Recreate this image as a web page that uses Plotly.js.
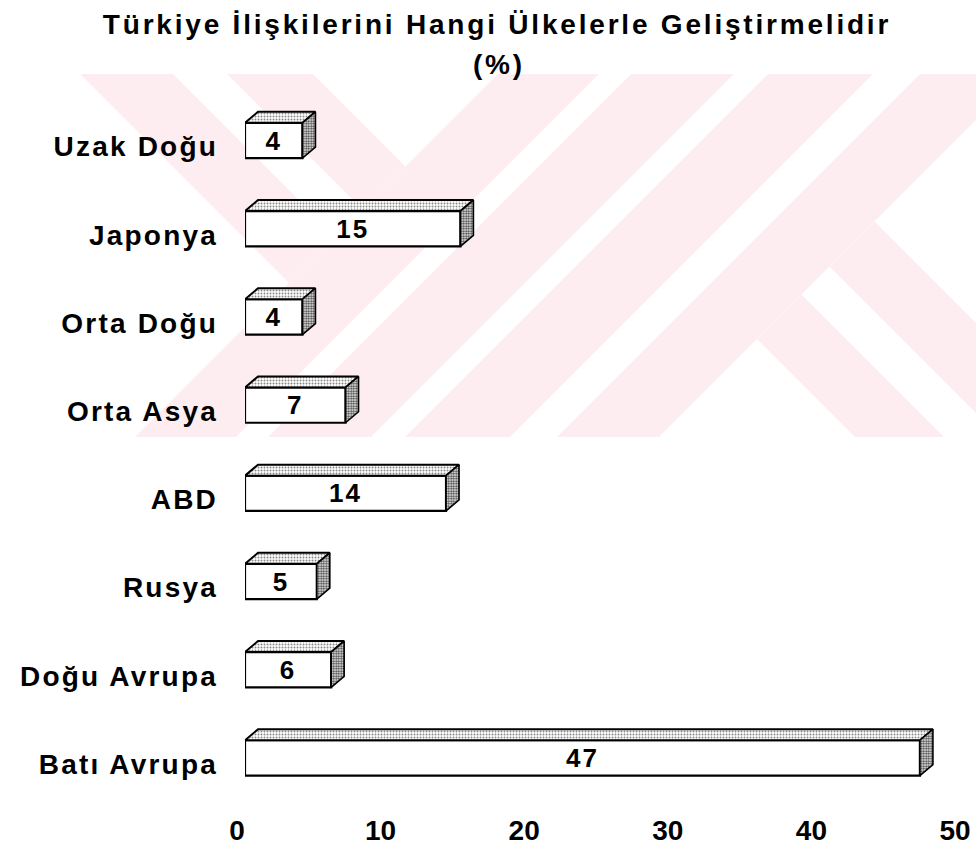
<!DOCTYPE html>
<html>
<head>
<meta charset="utf-8">
<script src="https://cdn.plot.ly/plotly-3.0.1.min.js"></script>
<style>
  html, body { margin: 0; padding: 0; background: #ffffff; }
  #chart { width: 976px; height: 864px; }
  .gtitle { letter-spacing: 2.8px; }
  .annotation-text { letter-spacing: 2.8px; }
  .ytick text { letter-spacing: 2.2px; }
  text.bartext { letter-spacing: 2px; }
</style>
</head>
<body>
<div id="chart"></div>
<script>
// ---- data ----
const categories = ['Uzak Doğu', 'Japonya', 'Orta Doğu', 'Orta Asya', 'ABD', 'Rusya', 'Doğu Avrupa', 'Batı Avrupa'];
const values = [4, 15, 4, 7, 14, 5, 6, 47];
const xTickValues = [0, 10, 20, 30, 40, 50];
const xTickLabels = ['0', '10', '20', '30', '40', '50'];
const titleText = 'Türkiye İlişkilerini Hangi Ülkelerle Geliştirmelidir';
const subtitleText = '(%)';

// ---- layout geometry (style) ----
const W = 976, H = 864;
const M = { l: 245, r: 13, t: 70, b: 64 };
const plotW = W - M.l - M.r, plotH = H - M.t - M.b;
const xRange = [0, 50];
const yRange = [7.4773, -0.7993];           // reversed: first category on top
const xPerPx = (xRange[1] - xRange[0]) / plotW;
const yPerPx = (yRange[0] - yRange[1]) / plotH;
const barHalf = 0.2;                        // half of bar thickness (category units)
const depthX = 13 * xPerPx;                 // 3D depth offset
const depthY = 11 * yPerPx;
const FONT = "'Liberation Sans', Arial, Helvetica, sans-serif";

const yPos = categories.map((c, i) => i);

// ---- 3D faces built from the data ----
const topX = [], topY = [], sideX = [], sideY = [];
values.forEach((v, i) => {
  const yt = yPos[i] - barHalf, yb = yPos[i] + barHalf;
  topX.push(0, depthX, v + depthX, v, 0, null);
  topY.push(yt, yt - depthY, yt - depthY, yt, yt, null);
  sideX.push(v, v + depthX, v + depthX, v, v, null);
  sideY.push(yt, yt - depthY, yb - depthY, yb, yt, null);
});

const traces = [
  {
    type: 'bar', orientation: 'h',
    x: values, y: yPos, width: barHalf * 2,
    marker: { color: '#ffffff', line: { color: '#000000', width: 2.2 } },
    text: values.map(String), textposition: 'inside', insidetextanchor: 'middle',
    textangle: 0, constraintext: 'none',
    textfont: { family: FONT, size: 26, color: '#000000', weight: 'bold' },
    hoverinfo: 'skip', showlegend: false
  },
  {
    type: 'scatter', mode: 'lines', x: topX, y: topY,
    fill: 'toself', fillcolor: '#ffffff',
    fillpattern: { shape: '.', fgcolor: '#8a8a8a', bgcolor: '#ffffff', size: 3, solidity: 0.35 },
    line: { color: '#000000', width: 2 }, connectgaps: false,
    hoverinfo: 'skip', showlegend: false
  },
  {
    type: 'scatter', mode: 'lines', x: sideX, y: sideY,
    fill: 'toself', fillcolor: '#ffffff',
    fillpattern: { shape: '.', fgcolor: '#444444', bgcolor: '#ffffff', size: 2.5, solidity: 0.55 },
    line: { color: '#000000', width: 1.6 }, connectgaps: false,
    hoverinfo: 'skip', showlegend: false
  }
];

// ---- background watermark (decoration, pixel geometry) ----
const wmRect = [[80, 74], [976, 74], [976, 437], [80, 437]];
const wmBands = [
  { u: [-1e9, 572], v: [6, 99] },
  { u: [-1e9, 572], v: [153, 239] },
  { u: [572, 673] },
  { u: [705, 808] },
  { u: [842, 947] },
  { u: [994, 1096] },
  { u: [1096, 1e9], v: [418, 507] },
  { u: [1096, 1e9], v: [563, 653] }
];
function clip(poly, a, b, c) {
  const out = [];
  for (let k = 0; k < poly.length; k++) {
    const P = poly[k], Q = poly[(k + 1) % poly.length];
    const fp = a * P[0] + b * P[1] - c, fq = a * Q[0] + b * Q[1] - c;
    if (fp <= 0) out.push(P);
    if ((fp < 0 && fq > 0) || (fp > 0 && fq < 0)) {
      const t = fp / (fp - fq);
      out.push([P[0] + t * (Q[0] - P[0]), P[1] + t * (Q[1] - P[1])]);
    }
  }
  return out;
}
const px2paper = p => [(p[0] - M.l) / plotW, 1 - (p[1] - M.t) / plotH];
const shapes = [];
wmBands.forEach(bd => {
  let poly = wmRect.slice();
  poly = clip(poly, 1, 1, bd.u[1]);
  poly = clip(poly, -1, -1, -bd.u[0]);
  if (bd.v) {
    poly = clip(poly, 1, -1, bd.v[1]);
    poly = clip(poly, -1, 1, -bd.v[0]);
  }
  if (poly.length < 3) return;
  const path = poly.map((p, k) => {
    const q = px2paper(p);
    return (k ? 'L' : 'M') + q[0].toFixed(5) + ',' + q[1].toFixed(5);
  }).join(' ') + ' Z';
  shapes.push({ type: 'path', xref: 'paper', yref: 'paper', path: path,
    fillcolor: '#fdedf0', line: { width: 0 }, layer: 'below' });
});

const layout = {
  width: W, height: H,
  margin: M,
  paper_bgcolor: '#ffffff', plot_bgcolor: 'rgba(0,0,0,0)',
  showlegend: false,
  title: {
    text: titleText,
    font: { family: FONT, size: 28, color: '#000000', weight: 'bold' },
    x: 497 / W, xref: 'container', xanchor: 'center',
    y: 1 - 24 / H, yref: 'container', yanchor: 'middle'
  },
  annotations: [{
    text: subtitleText, xref: 'paper', yref: 'paper',
    x: (499 - M.l) / plotW, y: 1 - (65 - M.t) / plotH,
    xanchor: 'center', yanchor: 'middle', showarrow: false,
    font: { family: FONT, size: 28, color: '#000000', weight: 'bold' }
  }],
  xaxis: {
    range: xRange, domain: [0, 1], automargin: false,
    tickmode: 'array', tickvals: xTickValues, ticktext: xTickLabels,
    ticks: '', showgrid: false, zeroline: false, showline: false,
    ticklabelshift: -8, ticklabelstandoff: 11,
    tickfont: { family: FONT, size: 28, color: '#000000', weight: 'bold' },
    fixedrange: true
  },
  yaxis: {
    range: yRange, automargin: false,
    tickmode: 'array', tickvals: yPos, ticktext: categories,
    ticks: '', showgrid: false, zeroline: false, showline: false,
    ticklabelstandoff: 26, ticklabelshift: -6,
    tickfont: { family: FONT, size: 28, color: '#000000', weight: 'bold' },
    fixedrange: true
  },
  shapes: shapes,
  bargap: 0.6
};

Plotly.newPlot('chart', traces, layout, { displayModeBar: false, staticPlot: true });
</script>
</body>
</html>
